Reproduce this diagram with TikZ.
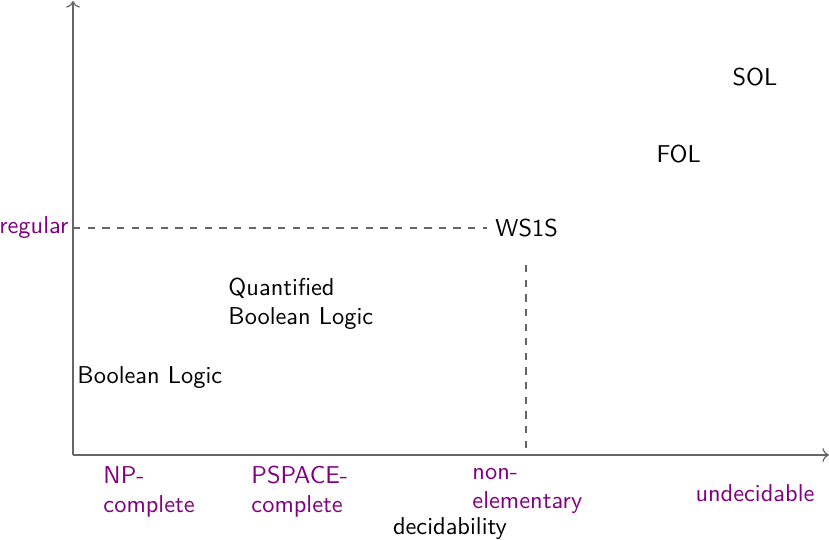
\documentclass[tikz,border=0pt]{standalone}
\usetikzlibrary{arrows.meta}
\renewcommand{\familydefault}{\sfdefault}
\begin{document}
\begin{tikzpicture}[x=0.41pt,y=-0.41pt,
  axisline/.style={draw=black!60, line width=0.5pt},
  guide/.style={draw=black!60, dashed, line width=0.5pt},
  logic/.style={inner sep=0pt, anchor=west, align=left, font=\sffamily},
  cls/.style={inner sep=0pt, anchor=west, align=left, text=violet, font=\sffamily}]
\useasboundingbox (0,0) rectangle (829,540);
\coordinate (O) at (73,455);
\coordinate (ytop) at (73,1);
\coordinate (xend) at (829,455);
\draw[axisline,->] (O) -- (ytop);
\draw[axisline,->] (O) -- (xend);
% labels on the x axis
\node[cls] (np) at (103,492) {NP-\\complete};
\node[cls] (ps) at (251,492) {PSPACE-\\complete};
\node[cls] (ne) at (472,491) {non-\\elementary};
\node[cls] (ud) at (695,493) {undecidable};
\node[inner sep=0pt, font=\sffamily] (dec) at (450,529) {decidability};
% y label
\node[cls, anchor=east] (reg) at (69,228) {regular};
% logics
\node[logic] (bl) at (77,378) {Boolean Logic};
\node[logic] (qbl) at (228,304) {Quantified\\Boolean Logic};
\node[logic] (ws) at (495,228) {WS1S};
\node[logic] (fol) at (656,154) {FOL};
\node[logic] (sol) at (732,77) {SOL};
\coordinate (ry) at (73,228);
\coordinate (wsl) at (487,228);
\draw[guide] (ry) -- (wsl);
\coordinate (vtop) at (526,265);
\coordinate (vbot) at (526,455);
\draw[guide] (vtop) -- (vbot);
\end{tikzpicture}
\end{document}
